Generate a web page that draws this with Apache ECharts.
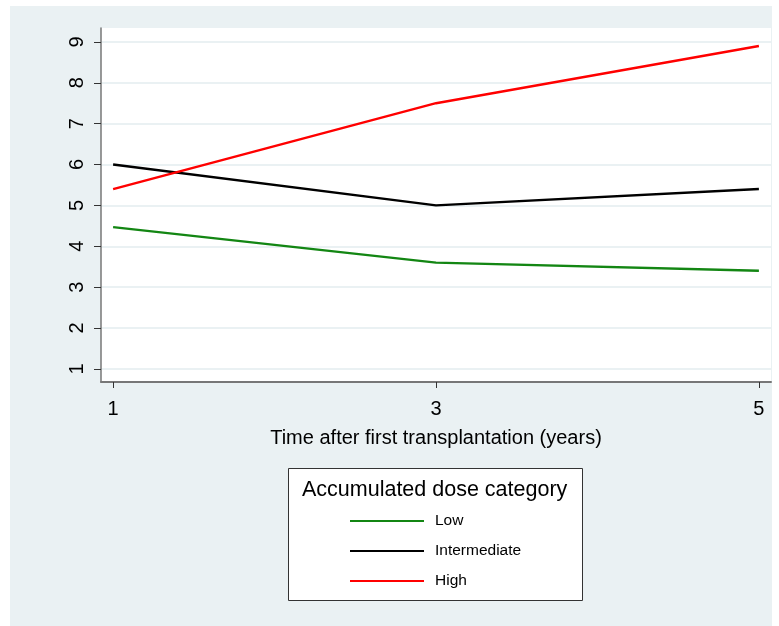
<!DOCTYPE html>
<html>
<head>
<meta charset="utf-8">
<script src="https://cdn.jsdelivr.net/npm/echarts@6/dist/echarts.min.js"></script>
<style>
  html, body { margin: 0; padding: 0; background: #fff; }
  #chart { width: 779px; height: 626px; }
</style>
</head>
<body>
<div id="chart"></div>
<script>
// years after first transplantation
var years = [1, 3, 5];
var xTicks = [1, 3, 5];
var yTicks = [1, 2, 3, 4, 5, 6, 7, 8, 9];

var seriesNames = ['Low', 'Intermediate', 'High'];
var lowValues = [4.47, 3.6, 3.4];
var intermediateValues = [6.0, 5.0, 5.4];
var highValues = [5.4, 7.5, 8.9];
var seriesColors = ['#138613', '#000000', '#ff0000'];

var chart = echarts.init(document.getElementById('chart'), null, { renderer: 'canvas' });

function pairs(vals) {
    var out = [];
    for (var i = 0; i < years.length; i++) {
        out.push([years[i], vals[i]]);
    }
    return out;
}

var allValues = [lowValues, intermediateValues, highValues];
var series = [];
for (var i = 0; i < seriesNames.length; i++) {
    series.push({
        name: seriesNames[i],
        type: 'line',
        symbol: 'none',
        silent: true,
        z: 5,
        lineStyle: { color: seriesColors[i], width: 2.4 },
        itemStyle: { color: seriesColors[i] },
        data: pairs(allValues[i])
    });
}

var option = {
    backgroundColor: '#ffffff',
    animation: false,
    textStyle: { fontFamily: 'Liberation Sans, Arial, sans-serif', color: '#000' },
    graphic: [
        {
            type: 'rect', z: -10, silent: true,
            shape: { x: 10, y: 6, width: 762, height: 620 },
            style: { fill: '#eaf1f3' }
        },
        {
            type: 'rect', z: 1, silent: true,
            shape: { x: 288.5, y: 468.5, width: 294, height: 132 },
            style: { fill: '#ffffff', stroke: '#333', lineWidth: 1 }
        },
        {
            type: 'text', z: 2, silent: true,
            left: 302, top: 479,
            style: { text: 'Accumulated dose category', fill: '#000', font: '21.5px Liberation Sans, Arial, sans-serif' }
        }
    ],
    grid: {
        left: 101, top: 28, right: 8, bottom: 244,
        show: true, backgroundColor: '#ffffff', borderWidth: 0
    },
    legend: {
        data: seriesNames,
        orient: 'vertical',
        left: 345, top: 508,
        icon: 'rect',
        itemWidth: 74, itemHeight: 2.2,
        itemGap: 14,
        textStyle: { fontSize: 15.5, color: '#000', padding: [0, 0, 0, 6] },
        selectedMode: false,
        z: 3
    },
    xAxis: {
        type: 'value',
        min: 0.925, max: 5.075,
        name: 'Time after first transplantation (years)',
        nameLocation: 'middle',
        nameGap: 46,
        nameTextStyle: { fontSize: 20, color: '#000' },
        axisLine: { show: true, onZero: false, lineStyle: { color: '#777', width: 2 } },
        axisTick: { show: true, customValues: xTicks, length: 6, lineStyle: { color: '#333', width: 1 } },
        axisLabel: { customValues: xTicks, fontSize: 20, color: '#000', margin: 17 },
        splitLine: { show: false }
    },
    yAxis: {
        type: 'value',
        min: 0.68, max: 9.34,
        axisLine: { show: true, lineStyle: { color: '#777', width: 1.5 } },
        axisTick: { show: true, customValues: yTicks, length: 7, lineStyle: { color: '#333', width: 1 } },
        axisLabel: { customValues: yTicks, fontSize: 20, color: '#000', rotate: 90, margin: 14 },
        splitLine: { show: true, lineStyle: { color: '#eaf1f3', width: 2 } }
    },
    series: series
};

chart.setOption(option);
</script>
</body>
</html>
